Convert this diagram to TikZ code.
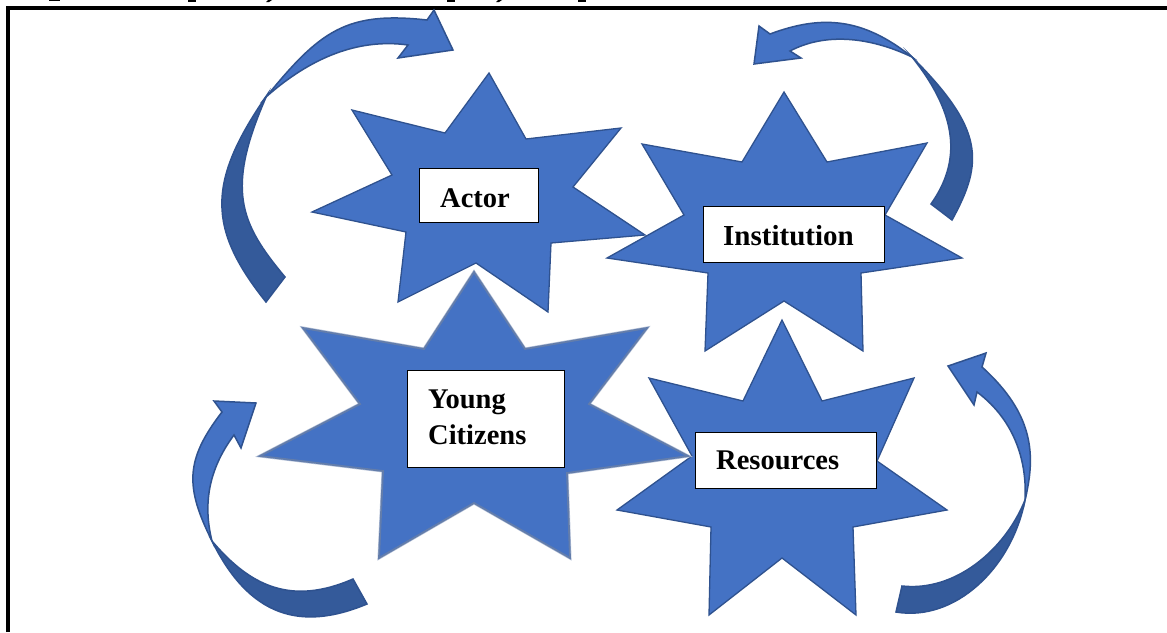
\documentclass[tikz,border=0pt]{standalone}
\usepackage{fontspec}
\setmainfont{Liberation Serif}
\definecolor{starfill}{HTML}{4472C4}
\definecolor{staredge}{HTML}{2F528F}
\definecolor{darkband}{HTML}{345A9A}
\tikzset{
  starshape/.style={fill=starfill,draw=staredge,line width=1.3pt,line join=miter,miter limit=20},
  softstar/.style={fill=starfill,draw=staredge!75!white,line width=1.8pt,line join=miter,miter limit=20},
  softhalo/.style={draw=staredge!35!white,line width=3pt,line join=miter,miter limit=20},
  bandlight/.style={fill=starfill,draw=staredge,line width=1.5pt,line join=miter,miter limit=20},
  banddark/.style={fill=darkband,draw=staredge,line width=1.5pt,line join=miter,miter limit=20},
  labelbox/.style={draw=black,fill=white,line width=1pt,inner sep=0pt,anchor=north west},
  labeltext/.style={inner sep=0pt,font=\bfseries\fontsize{28.5}{36}\selectfont,align=left},
  frameline/.style={draw=black,line width=4pt,line cap=butt,line join=miter},
  topmark/.style={fill=black}
}
\begin{document}
\begin{tikzpicture}[x=1pt,y=-1pt]
\useasboundingbox (0,0) rectangle (1167,632);
\fill[white] (0,0) rectangle (1167,632);
% cut-off descenders of the line above the frame
\fill[topmark] (49,0) rectangle (60,1);
\fill[topmark] (188,0) rectangle (196,1.8);
\fill[topmark] (268,0) -- (272,0) -- (269,2) -- (266,2) -- cycle;
\fill[topmark] (447,0) rectangle (455,1.8);
\fill[topmark] (498,0) -- (502,0) -- (499,2) -- (496,2) -- cycle;
\fill[topmark] (578,0) rectangle (586,1.8);
% frame
\draw[frameline] (8,632) -- (8,8) -- (1167,8);

% Actor star
\draw[starshape] (489,73) -- (526,139) -- (621,128) -- (573,187) -- (645,235) -- (551,243) -- (548,312) -- (476,263) -- (398,302) -- (406,232) -- (312,212) -- (392,175) -- (352,110) -- (445,133) -- cycle;
% Institution star
\draw[starshape] (784,92) -- (827,162) -- (927,143) -- (885,215) -- (962,258) -- (861,273) -- (863,351) -- (784,301) -- (705,351) -- (708,273) -- (607,258) -- (684,215) -- (642,144) -- (742,162) -- cycle;
% Resources star
\draw[starshape] (782,320) -- (822,401) -- (914,378) -- (877,461) -- (947,510) -- (853,527) -- (856,615) -- (782,558) -- (709,615) -- (711,527) -- (617,510) -- (692,456) -- (649,378) -- (743,401) -- cycle;
% Young Citizens star
\draw[softhalo] (474,272) -- (525,349) -- (647,328) -- (589,404) -- (688,456) -- (567,473) -- (570,558) -- (474,503) -- (379,558) -- (383,471) -- (260,456) -- (360,404) -- (303,328) -- (424,349) -- cycle;
\draw[softstar] (474,272) -- (525,349) -- (647,328) -- (589,404) -- (688,456) -- (567,473) -- (570,558) -- (474,503) -- (379,558) -- (383,471) -- (260,456) -- (360,404) -- (303,328) -- (424,349) -- cycle;

% top-left arrow
\path[banddark] (266,302) .. controls (207,228) and (207,182) .. (267,95) .. controls (225,190) and (240,223) .. (285,277) -- cycle;
\path[bandlight] (266,97) .. controls (320,31) and (346,11) .. (427,20) -- (434,10) -- (453,50) -- (398,58) -- (408,45) .. controls (358,38) and (310,58) .. (266,97) -- cycle;

% top-right arrow
\path[banddark] (952,220) .. controls (984,162) and (984,129) .. (912,57) .. controls (960,117) and (960,163) .. (931,204) -- cycle;
\path[bandlight] (912,57) .. controls (862,17) and (821,15) .. (770,34) -- (759,26) -- (754,64) -- (801,58) -- (790,51) .. controls (824,33) and (868,36) .. (912,57) -- cycle;

% bottom-left arrow
\path[banddark] (367,604) .. controls (300,632) and (249,616) .. (212,541) .. controls (250,586) and (291,606) .. (353,579) -- cycle;
\path[bandlight] (212,541) .. controls (185,487) and (185,460) .. (222,412) -- (214,401) -- (256,403) -- (241,448) -- (234,435) .. controls (208,470) and (203,505) .. (212,541) -- cycle;

% bottom-right arrow
\path[banddark] (896,612) .. controls (955,622) and (1012,568) .. (1025,500) .. controls (1005,550) and (955,592) .. (902,586) -- cycle;
\path[bandlight] (1025,500) .. controls (1036,455) and (1034,414) .. (982,367) -- (986,353) -- (948,366) -- (974,405) -- (977,392) .. controls (1017,422) and (1027,465) .. (1025,500) -- cycle;

% labels
\node[labelbox,minimum width=118.5pt,minimum height=53.5pt] (actorbox) at (419,168) {};
\node[labelbox,minimum width=181.5pt,minimum height=55.5pt] (institutionbox) at (702.5,206) {};
\node[labelbox,minimum width=180.5pt,minimum height=55.5pt] (resourcesbox) at (695,432) {};
\node[labelbox,minimum width=156.5pt,minimum height=96.5pt] (youngbox) at (407,370) {};
\node[labeltext,anchor=base west] (actor) at (440,207) {Actor};
\node[labeltext,anchor=base west,font=\bfseries\fontsize{29}{36}\selectfont] (institution) at (723,245) {Institution};
\node[labeltext,anchor=base west] (resources) at (716,469) {Resources};
\node[labeltext,anchor=base west] (youngcitizens) at (428,444) {Young\\Citizens};
\end{tikzpicture}
\end{document}
